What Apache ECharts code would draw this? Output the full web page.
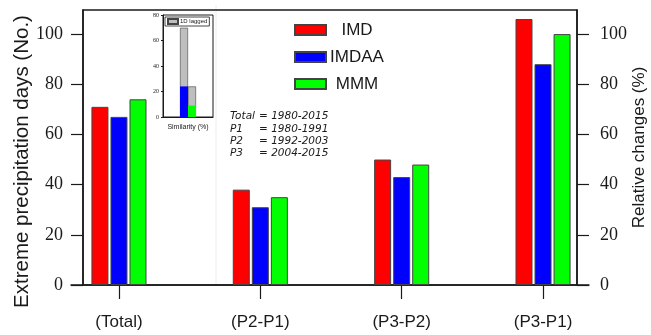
<!DOCTYPE html>
<html>
<head>
<meta charset="utf-8">
<script src="https://cdn.jsdelivr.net/npm/echarts@6/dist/echarts.min.js"></script>
<style>
  html, body { margin: 0; padding: 0; background: #fff; }
  #chart { width: 651px; height: 335px; }
</style>
</head>
<body>
<div id="chart"></div>
<script>
// main bars
const categories = ['(Total)', '(P2-P1)', '(P3-P2)', '(P3-P1)']
const imd = [71, 38, 50, 106]
const imdaa = [67, 31, 43, 88]
const mmm = [74, 35, 48, 100]
const yTicks = [0, 20, 40, 60, 80, 100]

// inset (similarity)
const insetCategory = ['Similarity (%)']
const laggedImdaa = [70]
const laggedMmm = [24]
const simImdaa = [24]
const simMmm = [9]

// periods note
const periods = [
  ['Total', '1980-2015'],
  ['P1', '1980-1991'],
  ['P2', '1992-2003'],
  ['P3', '2004-2015']
]

const sans = 'Liberation Sans'
const serif = 'Liberation Serif'
const ink = '#1a1a1a'
const yMax = 109.6

const myChart = echarts.init(document.getElementById('chart'))

const barStyle = (color) => ({ color: color, borderColor: '#444', borderWidth: 1 })

const option = {
  animation: false,
  backgroundColor: '#fff',
  grid: [
    { left: 48.3, width: 565.4, top: 10, height: 275, outerBoundsMode: 'none' },
    { left: 71, width: 518, top: 10, height: 275, outerBoundsMode: 'none' },
    { left: 83, width: 494, top: 10, height: 275, outerBoundsMode: 'none', show: true, borderColor: ink, borderWidth: 1.5, backgroundColor: 'transparent' },
    { left: 163, top: 15, width: 50, height: 102, outerBoundsMode: 'none', show: true, borderColor: ink, borderWidth: 1, backgroundColor: 'transparent' }
  ],
  legend: [
    {
      data: ['IMD', 'IMDAA', 'MMM'],
      orient: 'vertical',
      left: 294,
      top: 21.5,
      padding: 0,
      itemWidth: 31,
      itemHeight: 10,
      itemGap: 10,
      icon: 'rect',
      selectedMode: false,
      formatter: '{c|{name}}',
      textStyle: {
        rich: { c: { width: 52, align: 'center', fontSize: 17, fontFamily: sans, color: ink } }
      }
    },
    {
      data: ['1D lagged'],
      left: 165,
      top: 17,
      padding: [1, 2, 1, 2],
      borderColor: ink,
      borderWidth: 0.8,
      itemWidth: 10,
      itemHeight: 5,
      icon: 'rect',
      selectedMode: false,
      textStyle: { fontSize: 6, fontFamily: sans, color: ink, padding: [0, 0, 0, -3] }
    }
  ],
  xAxis: [
    {
      gridIndex: 0, type: 'category', data: categories,
      axisLine: { show: false },
      axisTick: { show: true, alignWithLabel: true, length: 14, lineStyle: { color: ink, width: 1.2 } },
      axisLabel: { fontSize: 17, fontFamily: sans, color: ink, margin: 29 }
    },
    {
      gridIndex: 1, type: 'value',
      axisLine: { show: true, onZero: false, lineStyle: { color: ink, width: 1.5 } },
      axisTick: { show: false }, axisLabel: { show: false }, splitLine: { show: false }
    },
    { gridIndex: 2, type: 'value', show: false },
    {
      gridIndex: 3, type: 'category', data: insetCategory,
      axisLine: { lineStyle: { color: ink, width: 1 } },
      axisTick: { alignWithLabel: true, length: 3, lineStyle: { color: ink } },
      axisLabel: { fontSize: 7, fontFamily: sans, color: ink, margin: 7 }
    },
    { gridIndex: 3, type: 'category', data: insetCategory, show: false }
  ],
  yAxis: [
    { gridIndex: 0, type: 'value', min: 0, max: yMax, show: false },
    { gridIndex: 1, type: 'value', show: false },
    {
      gridIndex: 2, type: 'value', min: 0, max: yMax, position: 'left',
      name: 'Extreme precipitation days (No.)',
      nameLocation: 'middle', nameGap: 50, nameMoveOverlap: false,
      nameTextStyle: { fontSize: 20.5, fontFamily: sans, color: ink, padding: [0, 28, 0, 0] },
      axisLine: { show: true, lineStyle: { color: ink, width: 1.5 } },
      axisTick: { show: true, length: 12, customValues: yTicks, lineStyle: { color: ink, width: 1.2 } },
      axisLabel: { customValues: yTicks, fontSize: 18, fontFamily: serif, color: ink, margin: 20 },
      splitLine: { show: false }
    },
    {
      gridIndex: 2, type: 'value', min: 0, max: yMax, position: 'right',
      name: 'Relative changes (%)',
      nameLocation: 'middle', nameGap: 54, nameRotate: 90, nameMoveOverlap: false,
      nameTextStyle: { fontSize: 17, fontFamily: sans, color: ink },
      axisLine: { show: true, lineStyle: { color: ink, width: 1.5 } },
      axisTick: { show: true, length: 12, customValues: yTicks, lineStyle: { color: ink, width: 1.2 } },
      axisLabel: { customValues: yTicks, fontSize: 18, fontFamily: serif, color: ink, margin: 23 },
      splitLine: { show: false }
    },
    {
      gridIndex: 3, type: 'value', min: 0, max: 80, interval: 20,
      axisLine: { show: true, lineStyle: { color: ink, width: 1 } },
      axisTick: { show: true, length: 2, lineStyle: { color: ink } },
      axisLabel: { fontSize: 6, fontFamily: serif, color: ink, margin: 4 },
      splitLine: { show: false }
    }
  ],
  series: [
    { name: 'IMD', type: 'bar', xAxisIndex: 0, yAxisIndex: 0, data: imd, barWidth: 17, barGap: '12%', itemStyle: barStyle('#ff0000') },
    { name: 'IMDAA', type: 'bar', xAxisIndex: 0, yAxisIndex: 0, data: imdaa, barWidth: 17, barGap: '12%', itemStyle: barStyle('#0000ff') },
    { name: 'MMM', type: 'bar', xAxisIndex: 0, yAxisIndex: 0, data: mmm, barWidth: 17, barGap: '12%', itemStyle: barStyle('#00ff00') },

    // inset: lagged (grey) behind, same-day similarity on top
    { name: '1D lagged', type: 'bar', xAxisIndex: 3, yAxisIndex: 4, data: laggedImdaa, barWidth: 8, barGap: 0, itemStyle: { color: '#bebebe', borderColor: '#444', borderWidth: 0.6 } },
    { name: '1D lagged', type: 'bar', xAxisIndex: 3, yAxisIndex: 4, data: laggedMmm, barWidth: 8, barGap: 0, itemStyle: { color: '#bebebe', borderColor: '#444', borderWidth: 0.6 } },
    { name: 'IMDAA', type: 'bar', xAxisIndex: 4, yAxisIndex: 4, data: simImdaa, barWidth: 8, barGap: 0, itemStyle: { color: '#0000ff', borderWidth: 0 } },
    { name: 'MMM', type: 'bar', xAxisIndex: 4, yAxisIndex: 4, data: simMmm, barWidth: 8, barGap: 0, itemStyle: { color: '#00ff00', borderWidth: 0 } }
  ],
  graphic: [
    {
      type: 'line', silent: true, z: -1,
      shape: { x1: 216, y1: 5, x2: 216, y2: 284 },
      style: { stroke: '#ececec', lineWidth: 1 }
    },
    {
      type: 'text', left: 230, top: 111, silent: true,
      style: {
        text: periods.map(([k, v]) => '{k|' + k + '}{v|= ' + v + '}').join('\n'),
        fill: ink,
        rich: {
          k: { width: 29, fontSize: 10.5, fontStyle: 'italic', fontFamily: 'DejaVu Sans', lineHeight: 12.4, fill: ink },
          v: { fontSize: 10.5, fontStyle: 'italic', fontFamily: 'DejaVu Sans', lineHeight: 12.4, fill: ink }
        }
      }
    }
  ]
}

myChart.setOption(option)
</script>
</body>
</html>
